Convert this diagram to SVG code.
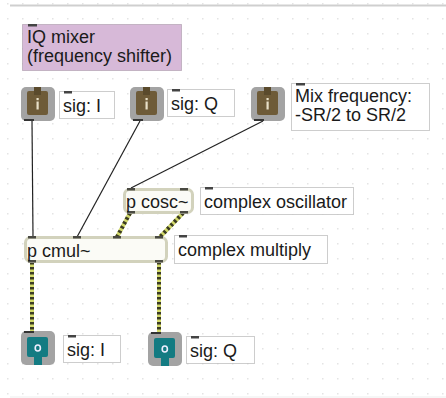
<svg xmlns="http://www.w3.org/2000/svg" width="446" height="398" viewBox="0 0 446 398">
<defs>
<pattern id="grid" x="7" y="3" width="15" height="15" patternUnits="userSpaceOnUse">
<rect x="0" y="0" width="1.5" height="1.5" fill="#e4e4e4"/>
</pattern>
<g id="inIcon">
<rect x="0" y="0" width="34" height="34" rx="5" fill="#a3a3a3"/>
<rect x="6" y="4" width="21" height="24" rx="2" fill="#6e5b38"/>
<rect x="13" y="0" width="7" height="8" fill="#5a4a2c"/>
<rect x="15.5" y="11" width="2.2" height="2.2" fill="#e8e0c8"/>
<rect x="15.5" y="14.5" width="2.2" height="8" fill="#e8e0c8"/>
<rect x="3" y="32" width="10" height="2" fill="#333"/>
</g>
<g id="outIcon">
<rect x="0" y="0" width="34" height="34" rx="5" fill="#a3a3a3"/>
<rect x="6" y="6" width="21" height="20" rx="2" fill="#137b82"/>
<rect x="13" y="24" width="8" height="10" fill="#137b82"/>
<ellipse cx="16.8" cy="17" rx="2.6" ry="3" fill="none" stroke="#eef" stroke-width="1.6"/>
<rect x="3" y="0" width="10" height="2" fill="#333"/>
</g>
</defs>
<style>
text{font-family:"Liberation Sans",Arial,sans-serif;font-size:18px;fill:#1a1a1a}
.cmt{fill:#fff;stroke:#9a9a9a;stroke-width:1;stroke-dasharray:1 1}
.tab{fill:#444}
.obj{fill:#fbfbf6;stroke:#d2d2bc;stroke-width:3}
.port{fill:#4a4a42}
.ctl{stroke:#222;stroke-width:1.2;fill:none}
.sigb{stroke:#d2d96a;stroke-width:4;fill:none}
.sigd{stroke:#3b3b24;stroke-width:4;fill:none;stroke-dasharray:2.5 2.5}
</style>
<rect width="446" height="398" fill="#ffffff"/>
<rect width="446" height="398" fill="url(#grid)"/>
<line x1="10" y1="5.5" x2="446" y2="5.5" stroke="#cfcfcf" stroke-width="2"/>
<line x1="10" y1="397" x2="446" y2="397" stroke="#ededed" stroke-width="1"/>

<g id="connectors">
<line class="ctl" x1="32" y1="121" x2="33" y2="237"/>
<line class="ctl" x1="140" y1="121" x2="77" y2="237"/>
<line class="ctl" x1="263" y1="121" x2="131" y2="188"/>
<line class="sigb" x1="130" y1="213" x2="117" y2="237"/>
<line class="sigd" x1="130" y1="213" x2="117" y2="237"/>
<line class="sigb" x1="183" y1="213" x2="160" y2="237"/>
<line class="sigd" x1="183" y1="213" x2="160" y2="237"/>
<line class="sigb" x1="32" y1="262" x2="32" y2="332"/>
<line class="sigd" x1="32" y1="262" x2="32" y2="332"/>
<line class="sigb" x1="159" y1="262" x2="159" y2="332"/>
<line class="sigd" x1="159" y1="262" x2="159" y2="332"/>
</g>

<g id="title">
<rect x="22.5" y="24.5" width="159" height="46" fill="#d7b9d8" stroke="#9a8a9a" stroke-width="1" stroke-dasharray="1 1"/>
<rect class="tab" x="28" y="24" width="9" height="2.5"/>
<text x="27" y="43">IQ mixer</text>
<text x="27" y="62">(frequency shifter)</text>
</g>

<g id="in1">
<use href="#inIcon" x="21" y="87"/>
</g>
<g id="lbl-in1">
<rect class="cmt" x="59.5" y="91.5" width="55" height="27"/>
<rect class="tab" x="64" y="91" width="8" height="2.5"/>
<text x="63" y="112">sig: I</text>
</g>
<g id="in2">
<use href="#inIcon" x="130" y="87"/>
</g>
<g id="lbl-in2">
<rect class="cmt" x="167.5" y="89.5" width="67" height="27"/>
<rect class="tab" x="172" y="89" width="8" height="2.5"/>
<text x="171" y="110">sig: Q</text>
</g>
<g id="in3">
<use href="#inIcon" x="251" y="87"/>
</g>
<g id="lbl-in3">
<rect class="cmt" x="291.5" y="83.5" width="138" height="47"/>
<rect class="tab" x="296" y="83" width="9" height="2.5"/>
<text x="295" y="102">Mix frequency:</text>
<text x="295" y="121">-SR/2 to SR/2</text>
</g>

<g id="cosc">
<rect class="obj" x="124.5" y="189.5" width="68" height="23" rx="5"/>
<rect class="port" x="127" y="188" width="8" height="2.5"/>
<rect class="port" x="180" y="188" width="8" height="2.5"/>
<rect class="port" x="127" y="211" width="8" height="2.5"/>
<rect class="port" x="180" y="211" width="8" height="2.5"/>
<text x="126" y="208">p cosc~</text>
</g>
<g id="lbl-cosc">
<rect class="cmt" x="200.5" y="187.5" width="153" height="27"/>
<rect class="tab" x="205" y="187" width="8" height="2.5"/>
<text x="204" y="208">complex oscillator</text>
</g>

<g id="cmul">
<rect class="obj" x="25.5" y="237.5" width="141" height="24" rx="5"/>
<rect class="port" x="28" y="236" width="8" height="2.5"/>
<rect class="port" x="73" y="236" width="8" height="2.5"/>
<rect class="port" x="113" y="236" width="8" height="2.5"/>
<rect class="port" x="155" y="236" width="8" height="2.5"/>
<rect class="port" x="28" y="260" width="8" height="2.5"/>
<rect class="port" x="155" y="260" width="8" height="2.5"/>
<text x="27" y="257">p cmul~</text>
</g>
<g id="lbl-cmul">
<rect class="cmt" x="174.5" y="235.5" width="153" height="28"/>
<rect class="tab" x="179" y="235" width="8" height="2.5"/>
<text x="178" y="256">complex multiply</text>
</g>

<g id="out1">
<use href="#outIcon" x="21" y="331"/>
</g>
<g id="lbl-out1">
<rect class="cmt" x="63.5" y="335.5" width="57" height="27"/>
<rect class="tab" x="68" y="335" width="8" height="2.5"/>
<text x="67" y="356">sig: I</text>
</g>
<g id="out2">
<use href="#outIcon" x="148" y="332"/>
</g>
<g id="lbl-out2">
<rect class="cmt" x="186.5" y="336.5" width="68" height="27"/>
<rect class="tab" x="191" y="336" width="8" height="2.5"/>
<text x="190" y="357">sig: Q</text>
</g>
</svg>
